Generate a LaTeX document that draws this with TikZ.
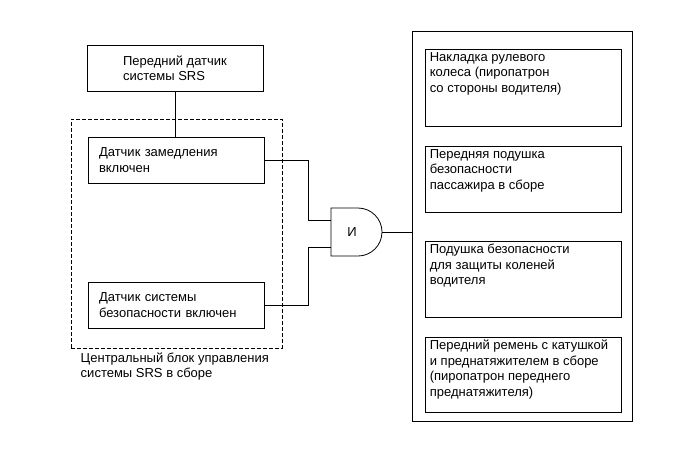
\documentclass[tikz,border=0pt]{standalone}
\usepackage{fontspec}
\setmainfont{Liberation Sans}
\tikzset{
  box/.style={draw, line width=0.8pt, inner sep=0pt},
  txt/.style={font=\fontsize{13}{15.5}\selectfont, align=left}
}
\begin{document}
\begin{tikzpicture}[x=1pt, y=-1pt, line width=0.8pt]
    \useasboundingbox (0,0) rectangle (691,467);

    % Sensors and control unit
    \node[box, txt, minimum width=176, minimum height=46] (front) at (175,68) {Передний датчик\\системы SRS};
    \node[box, dash pattern=on 4pt off 2pt, minimum width=211, minimum height=229] (ecu) at (176.5,233.5) {};
    \node[box, txt, minimum width=176, minimum height=46, text width=154] (decel) at (176,160) {Датчик замедления\\включен};
    \node[box, txt, minimum width=176, minimum height=46, text width=154] (safing) at (176,305) {Датчик системы\\безопасности включен};
    \node[txt, anchor=north west] (ecutext) at (77,349) {Центральный блок управления\\системы SRS в сборе};

    % AND gate
    \node[txt] (andg) at (352,232) {И};
    \draw (331,208) -- (358,208) arc[start angle=90, end angle=-90, radius=24pt] -- (331,256) -- cycle;
    \coordinate (in1) at (331,220);
    \coordinate (in2) at (331,247);
    \coordinate (gout) at (382,232);

    % Airbags and pretensioners
    \node[box, minimum width=220, minimum height=390] (outer) at (522,226) {};
    \node[box, minimum width=196, minimum height=77] (wheel) at (523,87.5) {};
    \node[txt, anchor=north west] (wheeltext) at ([xshift=1.5pt]wheel.north west) {Накладка рулевого\\колеса (пиропатрон\\со стороны водителя)};
    \node[box, minimum width=196, minimum height=66] (pass) at (523,179) {};
    \node[txt, anchor=north west] (passtext) at ([xshift=1.5pt]pass.north west) {Передняя подушка\\безопасности\\пассажира в сборе};
    \node[box, minimum width=196, minimum height=76] (knee) at (523,279) {};
    \node[txt, anchor=north west] (kneetext) at ([xshift=1.5pt]knee.north west) {Подушка безопасности\\для защиты коленей\\водителя};
    \node[box, minimum width=196, minimum height=75] (belt) at (523,374.5) {};
    \node[txt, anchor=north west] (belttext) at ([xshift=1.5pt]belt.north west) {Передний ремень с катушкой\\и преднатяжителем в сборе\\(пиропатрон переднего\\преднатяжителя)};

    % Connections
    \draw (front.south) -- (front.south |- decel.north);
    \draw (decel.east) -- ++(44,0) |- (in1);
    \draw (safing.east) -- ++(44,0) |- (in2);
    \draw (gout) -- (gout -| outer.west);
\end{tikzpicture}
\end{document}
